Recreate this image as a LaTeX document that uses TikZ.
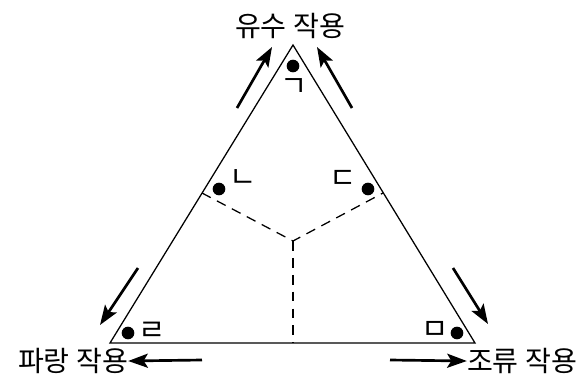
\documentclass[tikz,border=0pt]{standalone}
\usepackage{fontspec}
\setmainfont{Noto Sans CJK KR}
\usetikzlibrary{arrows.meta, positioning}

\begin{document}
\begin{tikzpicture}[x=0.025cm, y=-0.025cm,
    side/.style={line width=0.9pt},
    guide/.style={line width=0.9pt, dash pattern=on 7pt off 5pt},
    push/.style={line width=1.9pt, -{Stealth[length=14pt, width=10pt, inset=3pt]}},
    spot/.style={circle, fill=black, inner sep=0pt, minimum size=9pt},
    jamo/.style={font=\fontsize{21}{21}\selectfont, inner sep=0pt},
    force/.style={font=\fontsize{20}{20}\selectfont, inner sep=0pt}]
  \useasboundingbox (0,0) rectangle (585,382);

  % triangle corners and guide points
  \coordinate (apex) at (293,45);
  \coordinate (lft) at (110,343);
  \coordinate (rgt) at (475,343);
  \coordinate (ml) at (202,193);
  \coordinate (mr) at (383,193);
  \coordinate (ctr) at (293,241);
  \coordinate (foot) at (293,343);

  \draw[side] (apex) -- (lft) -- (rgt) -- cycle;
  \draw[guide] (ml) -- (ctr) -- (mr);
  \draw[guide] (ctr) -- (foot);

  % points
  \node[spot] (p1) at (293,66) {};
  \node[spot] (p2) at (219,189) {};
  \node[spot] (p3) at (368,189) {};
  \node[spot] (p4) at (128,333) {};
  \node[spot] (p5) at (457,333) {};
  \node[jamo] (j1) at (294,88) {ㄱ};
  \node[jamo] (j2) at (243,179) {ㄴ};
  \node[jamo] (j3) at (343,179) {ㄷ};
  \node[jamo] (j4) at (152,331) {ㄹ};
  \node[jamo] (j5) at (435,330) {ㅁ};

  % processes
  \node[force] (stream) at (290,26) {유수 작용};
  \node[force] (wave) at (73,361) {파랑 작용};
  \node[force] (tide) at (522,361) {조류 작용};

  % arrows
  \coordinate (a1) at (237,108); \coordinate (b1) at (272,47);
  \coordinate (a2) at (352,108); \coordinate (b2) at (317,47);
  \coordinate (a3) at (138,268); \coordinate (b3) at (100,325);
  \coordinate (a4) at (453,268); \coordinate (b4) at (488,324);
  \coordinate (a5) at (202,360); \coordinate (a6) at (390,360);
  \draw[push] (a1) -- (b1);
  \draw[push] (a2) -- (b2);
  \draw[push] (a3) -- (b3);
  \draw[push] (a4) -- (b4);
  \draw[push] (a5) -- (wave.east);
  \draw[push] (a6) -- (tide.west);
\end{tikzpicture}
\end{document}
